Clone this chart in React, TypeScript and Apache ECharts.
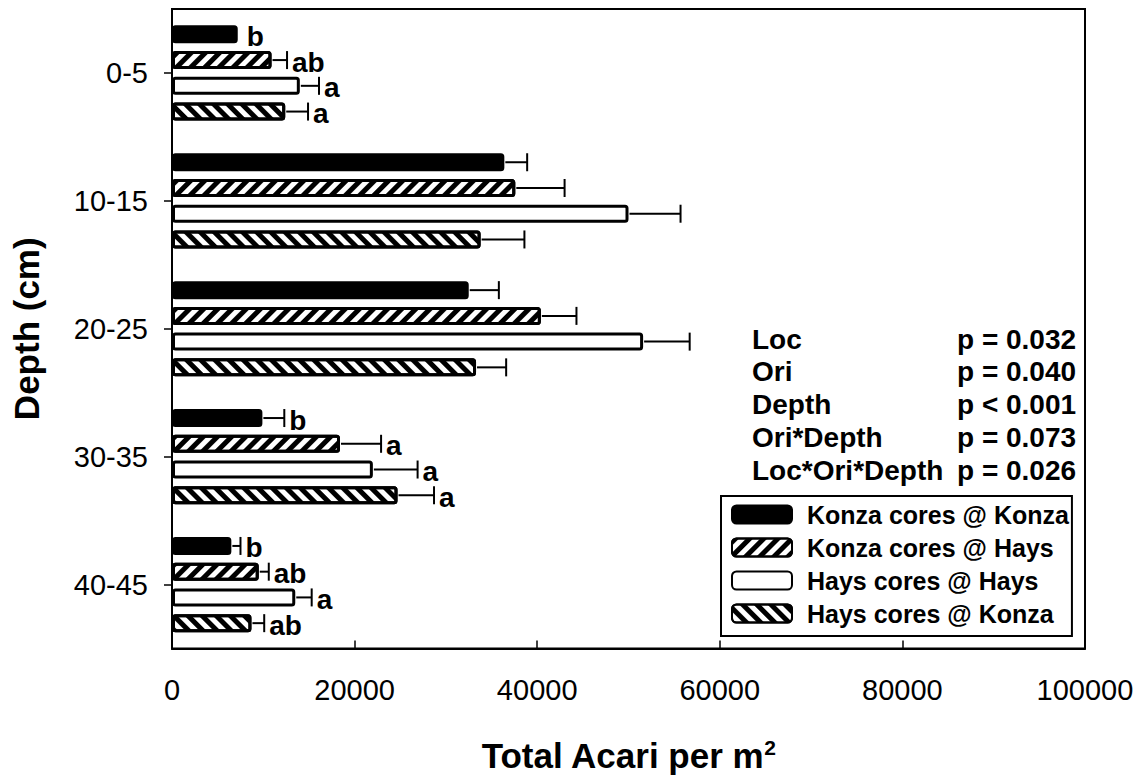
import React, { useEffect, useRef } from "react";
import * as echarts from "echarts";

const categories = ["0-5", "10-15", "20-25", "30-35", "40-45"];
const seriesNames = [
  "Konza cores @ Konza",
  "Konza cores @ Hays",
  "Hays cores @ Hays",
  "Hays cores @ Konza",
];
const konzaAtKonza = [7200, 36400, 32500, 9900, 6500];
const konzaAtHays = [10900, 37600, 40400, 18400, 9500];
const haysAtHays = [14000, 50000, 51600, 22000, 13500];
const haysAtKonza = [12400, 33800, 33300, 24700, 8700];

const konzaAtKonzaSE = [0, 2500, 3300, 2400, 1000];
const konzaAtHaysSE = [1700, 5400, 3900, 4500, 1100];
const haysAtHaysSE = [2100, 5700, 5100, 4900, 1800];
const haysAtKonzaSE = [2500, 4800, 3300, 4000, 1400];

const konzaAtKonzaLetters = ["b", "", "", "b", "b"];
const konzaAtHaysLetters = ["ab", "", "", "a", "ab"];
const haysAtHaysLetters = ["a", "", "", "a", "a"];
const haysAtKonzaLetters = ["a", "", "", "a", "ab"];

const xTicks = [0, 20000, 40000, 60000, 80000, 100000];

const statNames = ["Loc", "Ori", "Depth", "Ori*Depth", "Loc*Ori*Depth"];
const statValues = ["p = 0.032", "p = 0.040", "p < 0.001", "p = 0.073", "p = 0.026"];

const FONT = "'Liberation Sans', Arial, sans-serif";
const BAR_W = 18;
const BAR_GAP = 0.43;
const PITCH = BAR_W * (1 + BAR_GAP);

export default function App() {
  const ref = useRef<HTMLDivElement>(null);
  useEffect(() => {
    document.body.style.margin = "0";
    if (!ref.current) return;
    const chart = echarts.init(ref.current, null, { renderer: "svg" });

    const means = [konzaAtKonza, konzaAtHays, haysAtHays, haysAtKonza];
    const ses = [konzaAtKonzaSE, konzaAtHaysSE, haysAtHaysSE, haysAtKonzaSE];
    const letters = [konzaAtKonzaLetters, konzaAtHaysLetters, haysAtHaysLetters, haysAtKonzaLetters];

    const hatch = (rot: number) => ({
      symbol: "rect",
      symbolSize: 1,
      dashArrayX: [1, 0],
      dashArrayY: [5, 5],
      rotation: rot,
      color: "#000",
    });

    const styles = [
      { color: "#000", borderColor: "#000", borderWidth: 3, borderRadius: 2 },
      { color: "#fff", borderColor: "#000", borderWidth: 3, borderRadius: 2, decal: hatch(-Math.PI / 4) },
      { color: "#fff", borderColor: "#000", borderWidth: 3, borderRadius: 2 },
      { color: "#fff", borderColor: "#000", borderWidth: 3, borderRadius: 2, decal: hatch(Math.PI / 4) },
    ];

    const barSeries = seriesNames.map((name, i) => ({
      name,
      type: "bar",
      data: means[i],
      barWidth: BAR_W,
      barGap: BAR_GAP * 100 + "%",
      itemStyle: styles[i],
      emphasis: { disabled: true },
      z: 2,
    }));

    const errSeries = seriesNames.map((name, gi) => ({
      type: "custom",
      name: name + " err",
      z: 5,
      clip: false,
      data: categories.map((_, ci) => [ci, means[gi][ci], ses[gi][ci]]),
      encode: { x: 1, y: 0 },
      renderItem: (params: any, api: any) => {
        const ci = api.value(0);
        const m = api.value(1);
        const se = api.value(2);
        const c = api.coord([0, ci]);
        const y = c[1] + (gi - 1.5) * PITCH;
        const xEnd = api.coord([m, ci])[0];
        const xTop = api.coord([m + se, ci])[0];
        const children: any[] = [];
        if (se > 0) {
          children.push({
            type: "line",
            shape: { x1: xEnd + 1, y1: y, x2: xTop, y2: y },
            style: { stroke: "#000", lineWidth: 2 },
          });
          children.push({
            type: "line",
            shape: { x1: xTop, y1: y - 9, x2: xTop, y2: y + 9 },
            style: { stroke: "#000", lineWidth: 2 },
          });
        }
        const letter = letters[gi][params.dataIndex];
        if (letter) {
          children.push({
            type: "text",
            style: {
              x: se > 0 ? xTop + 5 : xEnd + 9,
              y: y + 2,
              text: letter,
              fill: "#000",
              font: `bold 28px ${FONT}`,
              textAlign: "left",
              textVerticalAlign: "middle",
            },
          });
        }
        return { type: "group", children };
      },
    }));

    const graphics: any[] = [];
    statNames.forEach((s, i) => {
      const yy = 340 + i * 32.8;
      graphics.push({
        type: "text",
        left: 752,
        top: yy - 15,
        style: { text: s, font: `bold 28px ${FONT}`, fill: "#000" },
      });
      graphics.push({
        type: "text",
        left: 957,
        top: yy - 15,
        style: { text: statValues[i], font: `bold 28px ${FONT}`, fill: "#000" },
      });
    });

    chart.setOption({
      animation: false,
      grid: {
        left: 172,
        right: 54,
        top: 9,
        bottom: 129,
        show: true,
        borderColor: "#000",
        borderWidth: 2,
        backgroundColor: "transparent",
      },
      legend: {
        data: seriesNames,
        orient: "vertical",
        left: 721,
        top: 496,
        itemWidth: 60,
        itemHeight: 18,
        itemGap: 8,
        padding: [6, 3, 10, 10],
        borderColor: "#000",
        borderWidth: 2,
        icon: "roundRect",
        selectedMode: false,
        textStyle: {
          fontFamily: FONT,
          fontWeight: "bold",
          fontSize: 25,
          color: "#000",
          padding: [0, 0, 0, 10],
        },
      },
      xAxis: {
        type: "value",
        min: 0,
        max: 100000,
        interval: 20000,
        name: "{a|Total Acari per m}{b|2}",
        nameLocation: "middle",
        nameGap: 88,
        nameTextStyle: {
          rich: {
            a: { fontFamily: FONT, fontWeight: "bold", fontSize: 35, color: "#000", lineHeight: 38 },
            b: { fontFamily: FONT, fontWeight: "bold", fontSize: 21, color: "#000", verticalAlign: "top", lineHeight: 21 },
          },
        },
        axisLine: { show: true, lineStyle: { color: "#000", width: 2 } },
        axisTick: { show: true, inside: true, length: 8, lineStyle: { color: "#000", width: 1.5 } },
        axisLabel: {
          margin: 27,
          fontFamily: FONT,
          fontSize: 29,
          color: "#000",
          formatter: (v: number) => (xTicks.includes(v) ? String(v) : ""),
        },
        splitLine: { show: false },
      },
      yAxis: {
        type: "category",
        data: categories,
        inverse: true,
        name: "Depth (cm)",
        nameLocation: "middle",
        nameGap: 128,
        nameRotate: 90,
        nameTextStyle: { fontFamily: FONT, fontWeight: "bold", fontSize: 35, color: "#000" },
        axisLine: { show: true, lineStyle: { color: "#000", width: 2 } },
        axisTick: { show: true, alignWithLabel: true, length: 8, lineStyle: { color: "#000", width: 1.5 } },
        axisLabel: { margin: 24, fontFamily: FONT, fontSize: 29, color: "#000" },
        splitLine: { show: false },
      },
      graphic: graphics,
      series: [...barSeries, ...errSeries],
    });
    return () => chart.dispose();
  }, []);
  return <div ref={ref} style={{ width: 1139, height: 778 }} />;
}
